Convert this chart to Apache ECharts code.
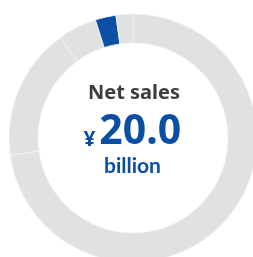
<!DOCTYPE html>
<html>
<head>
<meta charset="utf-8">
<script src="https://cdn.jsdelivr.net/npm/echarts@6/dist/echarts.min.js"></script>
<style>
html, body { margin: 0; padding: 0; background: #fff; }
#chart { width: 253px; height: 257px; }
</style>
</head>
<body>
<div id="chart"></div>
<script>
// share of net sales (%), clockwise from 12 o'clock
var segments = ['Segment A', 'Segment B', 'Segment C', 'Highlighted', 'Segment E'];
var shares = [72.8, 17.2, 5.1, 2.7, 2.2];
var highlight = 'Highlighted';
var titleText = 'Net sales';
var amountText = '20.0';
var currencyText = '¥';
var unitText = 'billion';

var grey = '#e0e1e1';
var blue = '#0a4fa4';

var chart = echarts.init(document.getElementById('chart'));
chart.setOption({
	animation: false,
	series: [{
		type: 'pie',
		silent: true,
		center: [133, 138],
		radius: [95, 124],
		startAngle: 90,
		clockwise: true,
		label: { show: false },
		labelLine: { show: false },
		itemStyle: { borderColor: '#f4f4f4', borderWidth: 0.8 },
		data: segments.map(function (name, i) {
			return {
				name: name,
				value: shares[i],
				itemStyle: { color: name === highlight ? blue : grey }
			};
		})
	}],
	graphic: [
		{ type: 'text', style: { text: titleText, x: 134, y: 93.5, align: 'center', verticalAlign: 'middle', fill: '#3d3d3d', font: 'bold 20px "Noto Sans"' } },
		{ type: 'text', style: { text: amountText, x: 140.3, y: 132.5, align: 'center', verticalAlign: 'middle', fill: blue, font: 'bold 41px "Noto Sans"' } },
		{ type: 'text', style: { text: currencyText, x: 89.5, y: 140.2, align: 'center', verticalAlign: 'middle', fill: blue, font: 'bold 21px "Noto Sans"' } },
		{ type: 'text', style: { text: unitText, x: 132.5, y: 166.2, align: 'center', verticalAlign: 'middle', fill: blue, font: 'bold 21px Lato' } }
	]
});
</script>
</body>
</html>
